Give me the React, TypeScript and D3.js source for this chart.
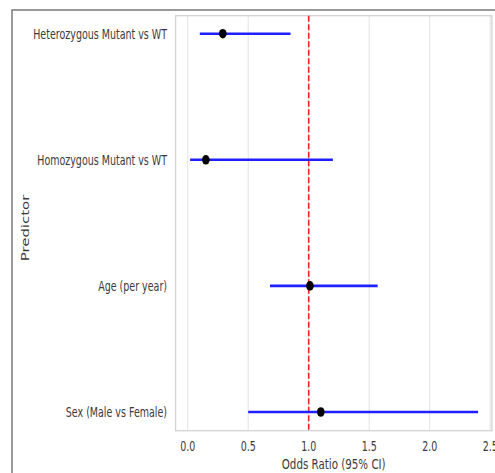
import React from "react";
import * as d3 from "d3";

const predictors = [
  "Heterozygous Mutant vs WT",
  "Homozygous Mutant vs WT",
  "Age (per year)",
  "Sex (Male vs Female)",
];
const oddsRatio = [0.29, 0.15, 1.01, 1.1];
const ciLower = [0.1, 0.02, 0.68, 0.5];
const ciUpper = [0.85, 1.2, 1.57, 2.4];
const xTicks = [0.0, 0.5, 1.0, 1.5, 2.0, 2.5];
const referenceValue = 1.0;

const W = 495;
const H = 473;
const STRETCH = 1.45;
const FONT = "'DejaVu Sans', sans-serif";
const TEXT = "#3a3a3a";

export default function App() {
  const x = d3.scaleLinear().domain([0, 2.5]).range([187.7, 490.2]);
  const y = d3.scalePoint<string>().domain(predictors).range([33.7, 412]);
  const left = x(-0.1);
  const right = x(2.514);
  const top = 15.7;
  const bottom = 430.7;

  const label = (
    key: string,
    tx: number,
    ty: number,
    text: string,
    size: number,
    anchor: string,
    rotate = 0
  ) => (
    <g key={key} transform={`translate(${tx},${ty}) rotate(${rotate}) scale(${rotate ? STRETCH : 1},${rotate ? 1 : STRETCH})`}>
      <text
        x={0}
        y={0}
        dy="0.35em"
        fontFamily={FONT}
        fontSize={size}
        fill={TEXT}
        textAnchor={anchor}
      >
        {text}
      </text>
    </g>
  );

  return (
    <svg
      width={W}
      height={H}
      style={{ position: "absolute", left: 0, top: 0, background: "#fff" }}
    >
      <rect x={0} y={0} width={W} height={H} fill="#fff" />
      {/* outer frame */}
      <path d={`M12,${H} L12,10 L${W},10`} fill="none" stroke="#7a7a7a" strokeWidth={1.5} />
      {/* grid */}
      {xTicks.map((t) => (
        <line key={"g" + t} x1={x(t)} x2={x(t)} y1={top} y2={bottom} stroke="#e3e3e3" strokeWidth={1} />
      ))}
      {/* plot frame */}
      <rect x={left} y={top} width={right - left} height={bottom - top} fill="none" stroke="#d2d2d2" strokeWidth={1.3} />
      {/* reference line */}
      <line
        x1={x(referenceValue)}
        x2={x(referenceValue)}
        y1={top}
        y2={bottom}
        stroke="#ff2020"
        strokeWidth={1.6}
        strokeDasharray="6,2.5"
      />
      {/* CI lines and points */}
      {predictors.map((p, i) => (
        <g key={p}>
          <line x1={x(ciLower[i])} x2={x(ciUpper[i])} y1={y(p)!} y2={y(p)!} stroke="#2020ff" strokeWidth={2.6} />
          <ellipse cx={x(oddsRatio[i])} cy={y(p)!} rx={3.8} ry={4.8} fill="#000" />
        </g>
      ))}
      {/* y tick labels */}
      {predictors.map((p) => label("y" + p, 167, y(p)!, p, 9.5, "end"))}
      {/* x tick labels */}
      {xTicks.map((t) => label("x" + t, x(t), 446.5, d3.format(".1f")(t), 9.5, "middle"))}
      {label("xl", 333.7, 463.5, "Odds Ratio (95% CI)", 10.3, "middle")}
      {label("yl", 25, 228, "Predictor", 10.3, "middle", -90)}
    </svg>
  );
}
